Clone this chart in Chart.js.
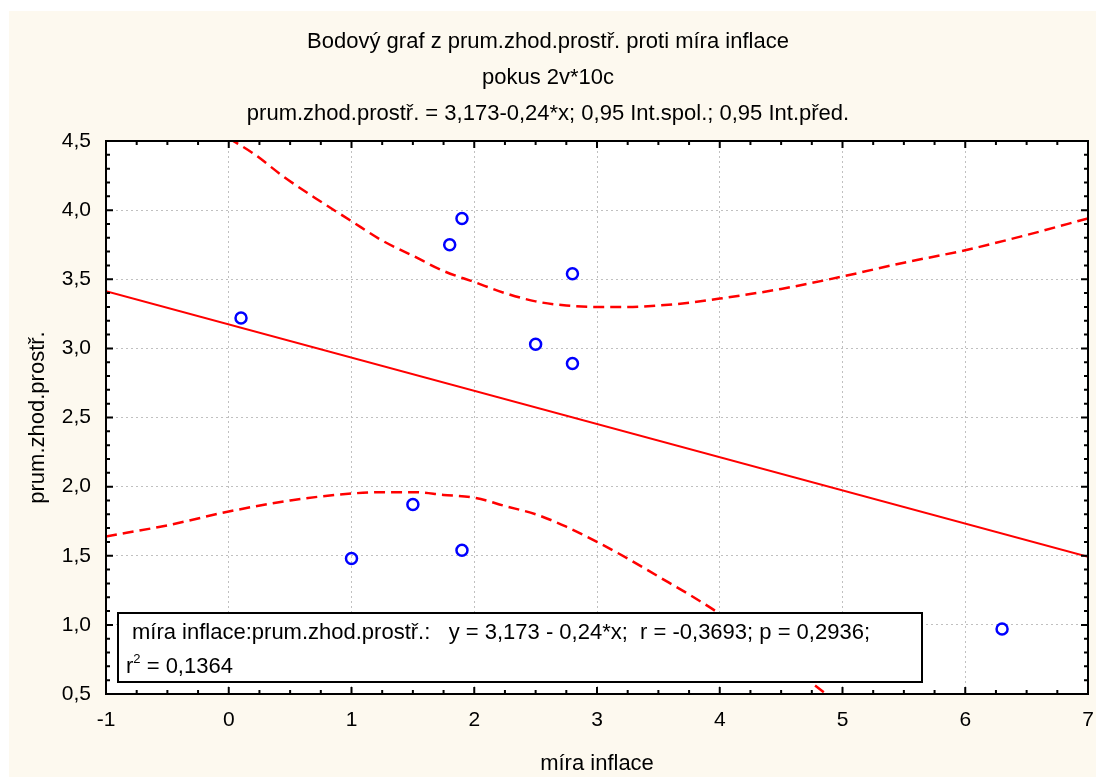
<!DOCTYPE html>
<html><head><meta charset="utf-8">
<script src="https://cdn.jsdelivr.net/npm/chart.js@4"></script>
<style>html,body{margin:0;padding:0;background:#fff}canvas{display:block}</style>
</head><body>
<canvas id="c" width="1096" height="780"></canvas>
<script>
// ---- texts ----
const titleLines = [
  'Bodový graf z prum.zhod.prostř. proti míra inflace',
  'pokus 2v*10c',
  'prum.zhod.prostř. = 3,173-0,24*x; 0,95 Int.spol.; 0,95 Int.před.'
];
const xAxisTitle = 'míra inflace';
const yAxisTitle = 'prum.zhod.prostř.';
const statsLine1 = 'míra inflace:prum.zhod.prostř.:   y = 3,173 - 0,24*x;  r = -0,3693; p = 0,2936;';
const statsLine2 = ['r', '2', ' = 0,1364'];

// ---- data ----
const inflace  = [0.1, 1.8, 1.9, 2.8, 2.5, 2.8, 1.5, 1.0, 1.9, 6.3];
const prumZhod = [3.22, 3.75, 3.94, 3.54, 3.03, 2.89, 1.87, 1.48, 1.54, 0.97];

const regX = [-1, 7];
const regY = [3.413, 1.493];

const ciUpperX = [0.0, 0.2, 0.45, 0.7, 1.0, 1.25, 1.5, 1.75, 2.0, 2.25, 2.5, 2.75, 3.0, 3.25, 3.5, 3.75, 4.0, 4.5, 5.0, 5.5, 6.0, 6.5, 7.0];
const ciUpperY = [4.52, 4.41, 4.24, 4.09, 3.92, 3.78, 3.67, 3.56, 3.48, 3.40, 3.34, 3.31, 3.30, 3.30, 3.31, 3.33, 3.36, 3.43, 3.52, 3.62, 3.71, 3.82, 3.94];

const ciLowerX = [-1.0, -0.5, 0.0, 0.5, 1.0, 1.25, 1.5, 1.75, 2.0, 2.25, 2.5, 2.75, 3.0, 3.25, 3.5, 3.75, 4.0, 4.25, 4.5, 4.75, 5.0];
const ciLowerY = [1.64, 1.72, 1.82, 1.90, 1.95, 1.96, 1.96, 1.94, 1.92, 1.86, 1.80, 1.71, 1.60, 1.48, 1.35, 1.22, 1.08, 0.92, 0.76, 0.58, 0.41];

const xTickValues = [-1, 0, 1, 2, 3, 4, 5, 6, 7];
const xTickLabels = ['-1', '0', '1', '2', '3', '4', '5', '6', '7'];
const yTickValues = [0.5, 1.0, 1.5, 2.0, 2.5, 3.0, 3.5, 4.0, 4.5];
const yTickLabels = ['0,5', '1,0', '1,5', '2,0', '2,5', '3,0', '3,5', '4,0', '4,5'];

const zip = (xs, ys) => xs.map((x, i) => ({x: x, y: ys[i]}));
const lookup = (vals, labs) => (v) => {
  const i = vals.findIndex(t => Math.abs(t - v) < 1e-9);
  return i >= 0 ? labs[i] : '';
};

const FONT = "'Liberation Sans', Arial, sans-serif";

const decor = {
  id: 'decor',
  beforeDraw(chart) {
    const ctx = chart.ctx, a = chart.chartArea;
    ctx.save();
    ctx.fillStyle = '#ffffff';
    ctx.fillRect(0, 0, chart.width, chart.height);
    ctx.fillStyle = '#fdf9ef';
    ctx.fillRect(9, 11, chart.width - 9, chart.height - 14);
    ctx.fillStyle = '#ffffff';
    ctx.fillRect(a.left, a.top, a.right - a.left, a.bottom - a.top);
    ctx.restore();
  },
  afterDatasetsDraw(chart) {
    const ctx = chart.ctx, a = chart.chartArea;
    const xs = chart.scales.x, ys = chart.scales.y;
    ctx.save();
    // stats box
    const bx = 118, by = 613, bw = 804, bh = 69;
    ctx.fillStyle = '#ffffff';
    ctx.fillRect(bx, by, bw, bh);
    ctx.strokeStyle = '#000';
    ctx.lineWidth = 2;
    ctx.strokeRect(bx, by, bw, bh);
    ctx.fillStyle = '#000';
    ctx.textBaseline = 'alphabetic';
    ctx.textAlign = 'left';
    ctx.font = '22px ' + FONT;
    ctx.fillText(statsLine1, 132, 639);
    let tx = 126;
    ctx.fillText(statsLine2[0], tx, 673);
    tx += ctx.measureText(statsLine2[0]).width;
    ctx.font = '13px ' + FONT;
    ctx.fillText(statsLine2[1], tx, 663);
    tx += ctx.measureText(statsLine2[1]).width;
    ctx.font = '22px ' + FONT;
    ctx.fillText(statsLine2[2], tx, 673);

    // frame
    ctx.strokeStyle = '#000';
    ctx.lineWidth = 2;
    ctx.strokeRect(a.left, a.top, a.right - a.left, a.bottom - a.top);
    // inward ticks
    ctx.lineWidth = 2;
    ctx.beginPath();
    for (let k = 0; k <= 32; k++) {
      const v = -1 + k * 0.25;
      const p = xs.getPixelForValue(v);
      const L = (k % 4 === 0) ? 7 : 4;
      ctx.moveTo(p, a.bottom); ctx.lineTo(p, a.bottom - L);
      ctx.moveTo(p, a.top); ctx.lineTo(p, a.top + L);
    }
    for (let k = 0; k <= 40; k++) {
      const v = 0.5 + k * 0.1;
      const p = ys.getPixelForValue(v);
      const L = (k % 5 === 0) ? 7 : 4;
      ctx.moveTo(a.left, p); ctx.lineTo(a.left + L, p);
      ctx.moveTo(a.right, p); ctx.lineTo(a.right - L, p);
    }
    ctx.stroke();
    ctx.restore();
  },
  afterDraw(chart) {
    const ctx = chart.ctx;
    ctx.save();
    ctx.fillStyle = '#000';
    ctx.textAlign = 'center';
    ctx.textBaseline = 'alphabetic';
    ctx.font = '22px ' + FONT;
    const cx = chart.width / 2;
    ctx.fillText(titleLines[0], cx, 48);
    ctx.fillText(titleLines[1], cx, 84);
    ctx.fillText(titleLines[2], cx, 120);
    ctx.restore();
  }
};

new Chart(document.getElementById('c'), {
  type: 'scatter',
  data: {
    datasets: [
      {
        label: 'data',
        data: zip(inflace, prumZhod),
        showLine: false,
        pointStyle: 'circle',
        pointRadius: 5.5,
        pointBorderWidth: 2.5,
        borderColor: '#0000ff',
        backgroundColor: 'rgba(0,0,0,0)',
        pointBackgroundColor: 'rgba(0,0,0,0)'
      },
      {
        label: 'regrese',
        data: zip(regX, regY),
        showLine: true,
        borderColor: '#ff0000',
        borderWidth: 2,
        pointRadius: 0
      },
      {
        label: 'horní',
        data: zip(ciUpperX, ciUpperY),
        showLine: true,
        borderColor: '#ff0000',
        borderWidth: 2.5,
        borderDash: [11, 6],
        pointRadius: 0,
        cubicInterpolationMode: 'monotone'
      },
      {
        label: 'dolní',
        data: zip(ciLowerX, ciLowerY),
        showLine: true,
        borderColor: '#ff0000',
        borderWidth: 2.5,
        borderDash: [11, 6],
        pointRadius: 0,
        cubicInterpolationMode: 'monotone'
      }
    ]
  },
  options: {
    responsive: false,
    devicePixelRatio: 1,
    animation: false,
    layout: { padding: { top: 141, right: 2, bottom: 0, left: 0 } },
    plugins: { legend: { display: false }, tooltip: { enabled: false }, title: { display: false } },
    scales: {
      x: {
        type: 'linear',
        min: -1, max: 7,
        afterFit(s) { s.height = 86; s.paddingLeft = 0; s.paddingRight = 0; },
        afterBuildTicks(s) { s.ticks = xTickValues.map(v => ({value: v})); },
        ticks: {
          stepSize: 1,
          color: '#000',
          padding: 14,
          maxRotation: 0,
          font: { family: FONT, size: 21 },
          callback: lookup(xTickValues, xTickLabels)
        },
        grid: { color: '#c0c0c0', lineWidth: 1, drawTicks: false },
        border: { display: false, dash: [2, 3] },
        title: {
          display: true, text: xAxisTitle, color: '#000',
          font: { family: FONT, size: 22 },
          padding: { top: 0, bottom: 3 }
        }
      },
      y: {
        type: 'linear',
        min: 0.5, max: 4.5,
        afterFit(s) { s.width = 106; s.paddingTop = 0; s.paddingBottom = 0; },
        afterBuildTicks(s) { s.ticks = yTickValues.map(v => ({value: v})); },
        ticks: {
          stepSize: 0.5,
          color: '#000',
          padding: 15,
          font: { family: FONT, size: 21 },
          callback: lookup(yTickValues, yTickLabels)
        },
        grid: { color: '#c0c0c0', lineWidth: 1, drawTicks: false },
        border: { display: false, dash: [2, 3] },
        title: {
          display: true, text: yAxisTitle, color: '#000',
          font: { family: FONT, size: 22 },
          padding: { top: 25, bottom: 0 }
        }
      }
    }
  },
  plugins: [decor]
});
</script>
</body></html>
